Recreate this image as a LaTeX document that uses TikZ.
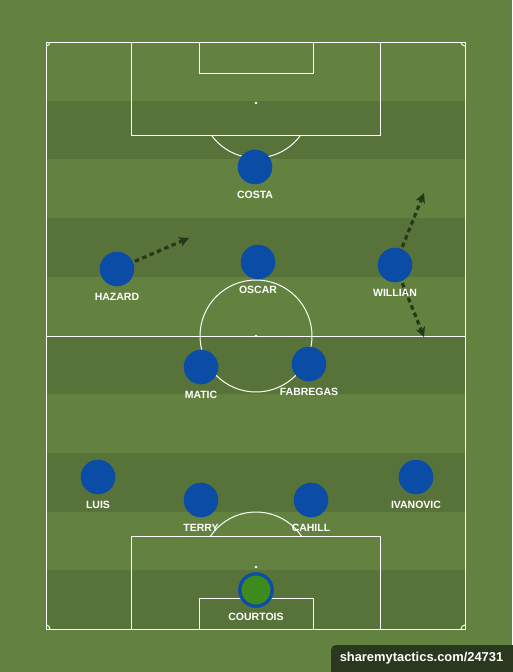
\documentclass[tikz,border=0pt]{standalone}
\usepackage{fontspec}
\setmainfont{Liberation Sans}
\usetikzlibrary{arrows,arrows.meta,positioning,calc}

\definecolor{grass}{HTML}{64823F}
\definecolor{stripe}{HTML}{58733A}
\definecolor{shirt}{HTML}{0B4DA6}
\definecolor{keeper}{HTML}{3E8B1D}
\definecolor{run}{HTML}{263819}
\definecolor{badge}{HTML}{2A3820}

\tikzset{
  player/.style={circle,fill=shirt,minimum size=34.6pt,inner sep=0pt},
  tag/.style={text=white,font=\bfseries\fontsize{10.5}{12}\selectfont,inner sep=0pt},
  chalk/.style={white,line width=1pt},
  runline/.style={-{Stealth[length=10pt,width=10pt,inset=3pt]},run,line width=3.2pt,dash pattern=on 4.5pt off 3.5pt,shorten <=2pt}
}

\begin{document}
\begin{tikzpicture}[>=latex,x=1pt,y=-1pt]

\useasboundingbox (0,0) rectangle (512,672);
\fill[grass] (0,0) rectangle (512,672);

\foreach \k in {1,3,5,7,9}
  \fill[stripe] (46,{42+58.7*\k}) rectangle (465,{42+58.7*(\k+1)});

\draw[chalk] (46,42) rectangle (465,629);
\draw[chalk] (46,336) -- (465,336);
\draw[chalk] (256,336) circle[radius=56pt];
\fill[white] (256,336) circle[radius=1.4pt];

\draw[chalk] (131,42) rectangle (380,135);
\draw[chalk] (199,42) rectangle (313,73);
\fill[white] (256,103) circle[radius=1.4pt];
\draw[chalk] (131,536) rectangle (380,629);
\draw[chalk] (199,598) rectangle (313,629);
\fill[white] (256,567) circle[radius=1.4pt];

\begin{scope}
  \clip (46,135.5) rectangle (465,200);
  \draw[chalk] (256,103) circle[radius=55pt];
\end{scope}
\begin{scope}
  \clip (46,470) rectangle (465,535.5);
  \draw[chalk] (256,567) circle[radius=55pt];
\end{scope}
\begin{scope}
  \clip (46,42) rectangle (465,629);
  \foreach \cx/\cy in {46/42,465/42,46/629,465/629}
    \draw[chalk] (\cx,\cy) circle[radius=4pt];
\end{scope}

\node[player] (costa) at (255,167) {};
\node[player] (hazard) at (117,269) {};
\node[player] (oscar) at (258,262) {};
\node[player] (willian) at (395,265) {};
\node[player] (matic) at (201,367) {};
\node[player] (fabregas) at (309,364) {};
\node[player] (luis) at (98,477) {};
\node[player] (terry) at (201,500) {};
\node[player] (cahill) at (311,500) {};
\node[player] (ivanovic) at (416,477) {};
\node[player,fill=keeper,draw=shirt,line width=3.3pt,minimum size=32.4pt] (courtois) at (256,590) {};

\path
  (189,238) coordinate (h1)
  (424,193) coordinate (w1)
  (424,337) coordinate (w2);
\draw[runline] (hazard) -- (h1);
\draw[runline] (willian) -- (w1);
\draw[runline] (willian) -- (w2);

\node[tag,below=6.5pt of costa] (costa-l) {COSTA};
\node[tag,below=6.5pt of hazard] (hazard-l) {HAZARD};
\node[tag,below=6.5pt of oscar] (oscar-l) {OSCAR};
\node[tag,below=6.5pt of willian] (willian-l) {WILLIAN};
\node[tag,below=6.5pt of matic] (matic-l) {MATIC};
\node[tag,below=6.5pt of fabregas] (fabregas-l) {FABREGAS};
\node[tag,below=6.5pt of luis] (luis-l) {LUIS};
\node[tag,below=6.5pt of terry] (terry-l) {TERRY};
\node[tag,below=6.5pt of cahill] (cahill-l) {CAHILL};
\node[tag,below=6.5pt of ivanovic] (ivanovic-l) {IVANOVIC};
\node[tag,below=5.5pt of courtois] (courtois-l) {COURTOIS};

\draw[fill=badge,draw=none,rounded corners=5pt] (331,645) rectangle (520,680);
\node[text=white,font=\bfseries\fontsize{12.9}{14}\selectfont] (site) at (421.5,658.5) {sharemytactics.com/24731};

\end{tikzpicture}
\end{document}
